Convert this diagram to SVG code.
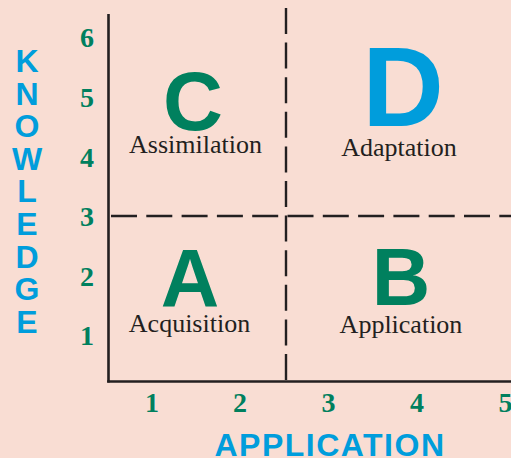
<svg xmlns="http://www.w3.org/2000/svg" width="511" height="458" viewBox="0 0 511 458">
<style>
.num{font-family:"Liberation Serif","Times New Roman",serif;font-weight:bold;font-size:28px;fill:#00805e;text-anchor:middle}
.axt{font-family:"Liberation Sans",Arial,sans-serif;font-weight:bold;font-size:32px;fill:#009ddc;text-anchor:middle}
.big{font-family:"Liberation Sans",Arial,sans-serif;font-weight:bold;text-anchor:middle}
.lbl{font-family:"Liberation Serif","Times New Roman",serif;font-size:26px;fill:#231f20;text-anchor:middle}
.axis{stroke:#231f20;stroke-width:2.6;fill:none}
.dash{stroke:#231f20;stroke-width:2.4;fill:none}
</style>
<rect width="511" height="458" fill="#f9ddd3"/>
<g id="connectors">
<line class="axis" x1="108.5" y1="14" x2="108.5" y2="382.5"/>
<line class="axis" x1="107.2" y1="381.5" x2="511" y2="381.5"/>
<line class="dash" x1="286" y1="8" x2="286" y2="381" stroke-dasharray="26 8.6"/>
<line class="dash" x1="111" y1="216" x2="511" y2="216" stroke-dasharray="26 9.3"/>
</g>
<g id="y-axis-label">
<text class="axt" x="27" y="72">K</text>
<text class="axt" x="27" y="104.6">N</text>
<text class="axt" x="27" y="137.2">O</text>
<text class="axt" x="27" y="169.8">W</text>
<text class="axt" x="27" y="202.4">L</text>
<text class="axt" x="27" y="235">E</text>
<text class="axt" x="27" y="267.6">D</text>
<text class="axt" x="27" y="300.2">G</text>
<text class="axt" x="27" y="332.8">E</text>
</g>
<g id="y-ticks">
<text class="num" x="87" y="47">6</text>
<text class="num" x="87" y="107">5</text>
<text class="num" x="87" y="166.5">4</text>
<text class="num" x="87" y="226">3</text>
<text class="num" x="87" y="285.5">2</text>
<text class="num" x="87" y="345">1</text>
</g>
<g id="x-ticks">
<text class="num" x="152" y="412">1</text>
<text class="num" x="240" y="412">2</text>
<text class="num" x="328.5" y="412">3</text>
<text class="num" x="417" y="412">4</text>
<text class="num" x="505.5" y="412">5</text>
</g>
<g id="x-axis-label">
<text class="axt" x="330" y="456" letter-spacing="1.5">APPLICATION</text>
</g>
<g id="node-C">
<text class="big" x="193" y="130" font-size="83" fill="#00805e">C</text>
<text class="lbl" x="195.5" y="153">Assimilation</text>
</g>
<g id="node-D">
<text class="big" x="403" y="126" font-size="113" fill="#009ddc">D</text>
<text class="lbl" x="399" y="156">Adaptation</text>
</g>
<g id="node-A">
<text class="big" x="190" y="306" font-size="81" fill="#00805e">A</text>
<text class="lbl" x="189.5" y="332">Acquisition</text>
</g>
<g id="node-B">
<text class="big" x="401" y="305" font-size="81" fill="#00805e">B</text>
<text class="lbl" x="401" y="333">Application</text>
</g>
</svg>
